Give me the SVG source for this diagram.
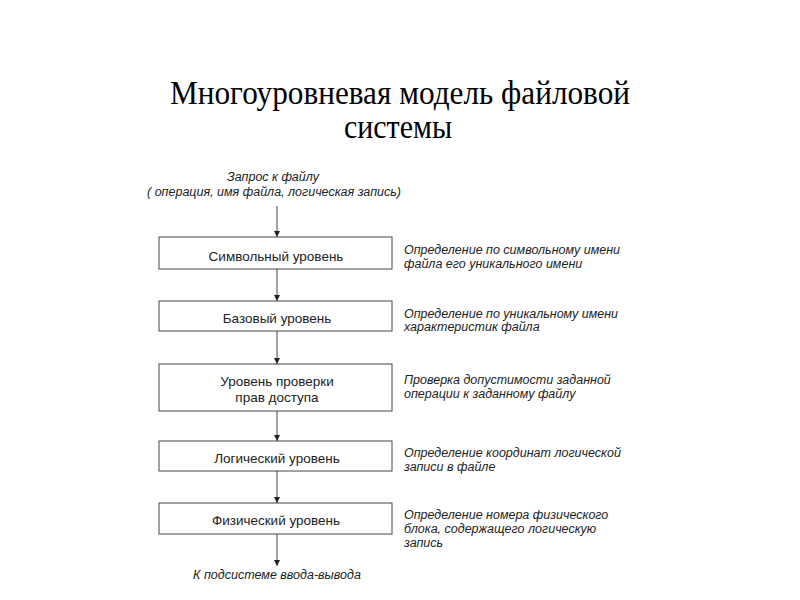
<svg xmlns="http://www.w3.org/2000/svg" width="800" height="600" viewBox="0 0 800 600">
<style>
.title{font-family:"Liberation Serif","Times New Roman",serif;font-size:33px;fill:#000;text-anchor:middle}
.box{fill:#fff;stroke:#444;stroke-width:1}
.lbl{font-family:"Liberation Sans",Arial,sans-serif;font-size:13.5px;fill:#222;text-anchor:middle}
.note{font-family:"Liberation Sans",Arial,sans-serif;font-size:12.5px;font-style:italic;fill:#222}
.io{font-family:"Liberation Sans",Arial,sans-serif;font-size:12.5px;font-style:italic;fill:#222;text-anchor:middle}
.conn{stroke:#444;stroke-width:1;fill:none;marker-end:url(#ah)}
</style>
<defs>
<marker id="ah" viewBox="0 0 6 6" refX="6" refY="3" markerWidth="6" markerHeight="6" markerUnits="userSpaceOnUse" orient="auto">
<path d="M0,0 L6,3 L0,6 Z" fill="#222"/>
</marker>
</defs>
<rect width="800" height="600" fill="#fff"/>
<g id="title">
<text class="title" x="400" y="104" textLength="460" lengthAdjust="spacingAndGlyphs">Многоуровневая модель файловой</text>
<text class="title" x="398" y="138" textLength="108" lengthAdjust="spacingAndGlyphs">системы</text>
</g>
<g id="request">
<text class="io" x="273" y="181">Запрос к файлу</text>
<text class="io" x="274" y="196">( операция, имя файла, логическая запись)</text>
</g>
<g id="n1">
<rect class="box" x="159" y="237" width="233" height="32"/>
<text class="lbl" x="276" y="261">Символьный уровень</text>
</g>
<g id="n2">
<rect class="box" x="159" y="301" width="233" height="30"/>
<text class="lbl" x="277" y="323">Базовый уровень</text>
</g>
<g id="n3">
<rect class="box" x="159" y="364" width="233" height="47"/>
<text class="lbl" x="277" y="386">Уровень проверки</text>
<text class="lbl" x="277" y="402">прав доступа</text>
</g>
<g id="n4">
<rect class="box" x="159" y="441" width="233" height="30"/>
<text class="lbl" x="277" y="463">Логический уровень</text>
</g>
<g id="n5">
<rect class="box" x="159" y="503" width="233" height="31"/>
<text class="lbl" x="276" y="525">Физический уровень</text>
</g>
<g id="output">
<text class="io" x="277" y="579">К подсистеме ввода-вывода</text>
</g>
<g id="notes">
<text class="note" x="404" y="254">Определение по символьному имени</text>
<text class="note" x="404" y="268">файла его уникального имени</text>
<text class="note" x="404" y="318">Определение по уникальному имени</text>
<text class="note" x="404" y="331">характеристик файла</text>
<text class="note" x="404" y="384">Проверка допустимости заданной</text>
<text class="note" x="404" y="398">операции к заданному файлу</text>
<text class="note" x="404" y="457">Определение координат логической</text>
<text class="note" x="404" y="471">записи в файле</text>
<text class="note" x="404" y="519">Определение номера физического</text>
<text class="note" x="404" y="533">блока, содержащего логическую</text>
<text class="note" x="404" y="547">запись</text>
</g>
<g id="connectors">
<line class="conn" x1="277" y1="206" x2="277" y2="237"/>
<line class="conn" x1="277" y1="269" x2="277" y2="301"/>
<line class="conn" x1="277" y1="331" x2="277" y2="364"/>
<line class="conn" x1="277" y1="411" x2="277" y2="441"/>
<line class="conn" x1="277" y1="471" x2="277" y2="503"/>
<line class="conn" x1="277" y1="534" x2="277" y2="566"/>
</g>
</svg>
